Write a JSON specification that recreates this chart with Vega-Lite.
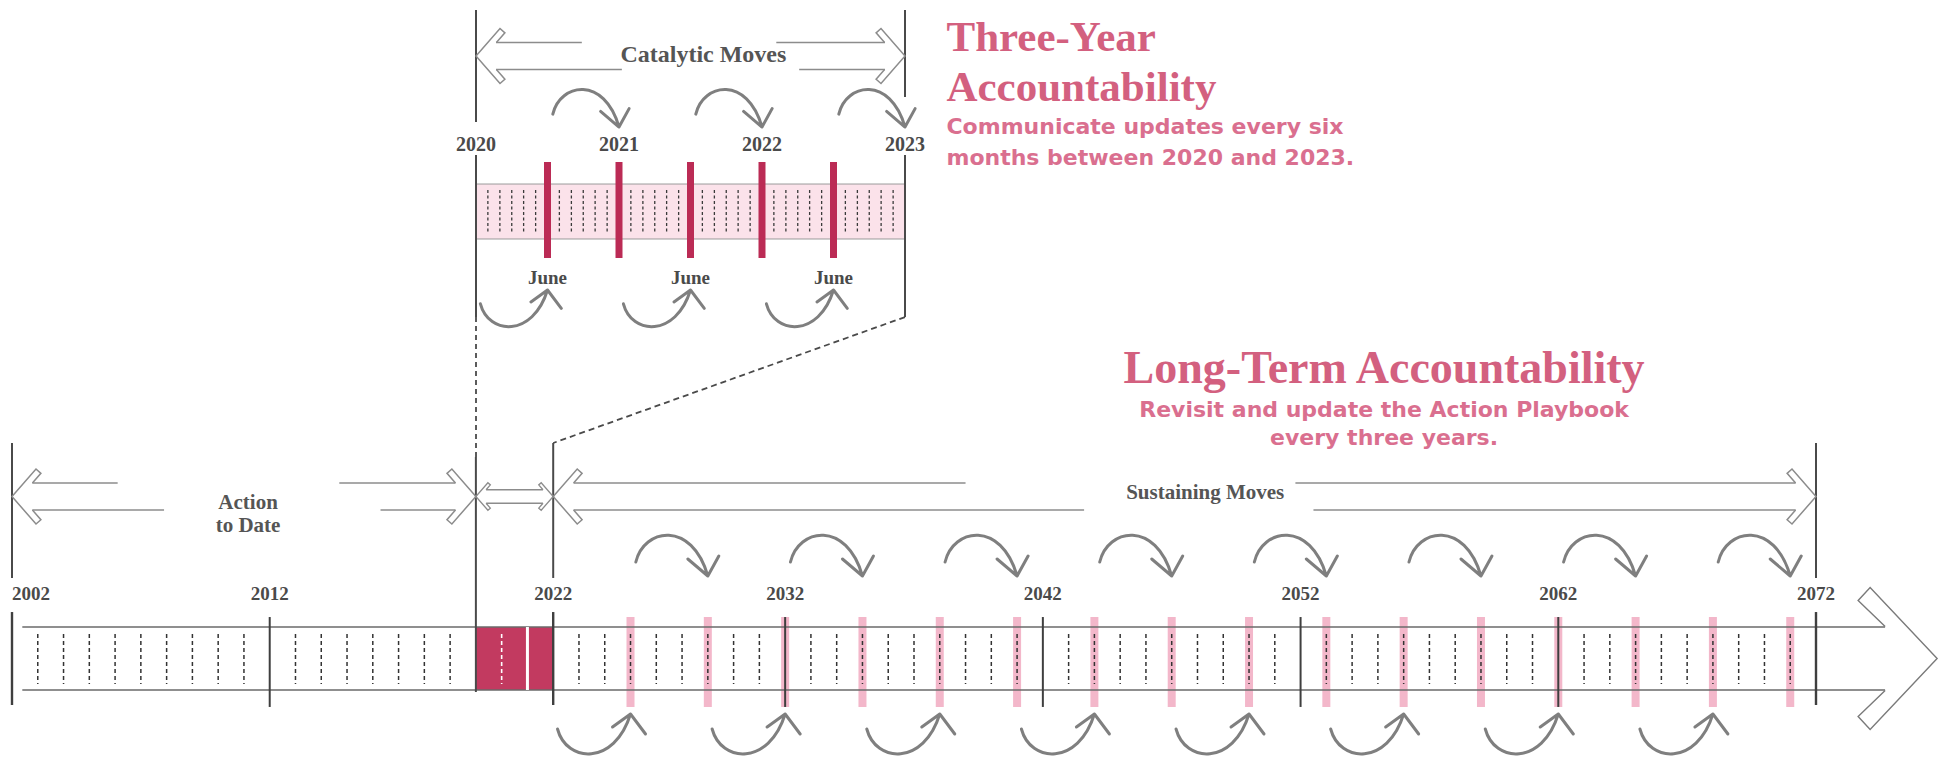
{
"$schema": "https://vega.github.io/schema/vega-lite/v6.json",
"width": 1948, "height": 757, "padding": 0, "autosize": {"type": "none"},
"background": "white",
"config": {"view": {"stroke": null}},
"resolve": {"scale": {"x": "independent"}},
"layer": [
{"data": {"values": [{"a": 2020, "b": 2023}]},
 "mark": {"type": "rect", "fill": "#fbe2ea", "stroke": "#9a9a9a", "strokeWidth": 1},
 "encoding": {"x": {"field": "a", "type": "quantitative", "scale": {"domain": [2020, 2023], "range": [476, 905], "nice": false, "zero": false}, "axis": null}, "x2": {"field": "b"},
  "y": {"datum": 24.31, "type": "quantitative", "scale": {"domain": [0, 100], "reverse": true, "nice": false, "zero": false}, "axis": null}, "y2": {"datum": 31.57}}},
{"data": {"values": [{"t": 2020.083}, {"t": 2020.167}, {"t": 2020.25}, {"t": 2020.333}, {"t": 2020.417}, {"t": 2020.583}, {"t": 2020.667}, {"t": 2020.75}, {"t": 2020.833}, {"t": 2020.917},
  {"t": 2021.083}, {"t": 2021.167}, {"t": 2021.25}, {"t": 2021.333}, {"t": 2021.417}, {"t": 2021.583}, {"t": 2021.667}, {"t": 2021.75}, {"t": 2021.833}, {"t": 2021.917},
  {"t": 2022.083}, {"t": 2022.167}, {"t": 2022.25}, {"t": 2022.333}, {"t": 2022.417}, {"t": 2022.583}, {"t": 2022.667}, {"t": 2022.75}, {"t": 2022.833}, {"t": 2022.917}]},
 "mark": {"type": "rule", "stroke": "#3a3a3a", "strokeWidth": 1.3, "strokeDash": [3, 2.5]},
 "encoding": {"x": {"field": "t", "type": "quantitative", "scale": {"domain": [2020, 2023], "range": [476, 905], "nice": false, "zero": false}, "axis": null},
  "y": {"datum": 25.1, "type": "quantitative", "scale": {"domain": [0, 100], "reverse": true, "nice": false, "zero": false}, "axis": null}, "y2": {"datum": 30.65}}},
{"data": {"values": [{"t": 2020.5}, {"t": 2021}, {"t": 2021.5}, {"t": 2022}, {"t": 2022.5}]},
 "mark": {"type": "rule", "stroke": "#bb2b55", "strokeWidth": 7},
 "encoding": {"x": {"field": "t", "type": "quantitative", "scale": {"domain": [2020, 2023], "range": [476, 905], "nice": false, "zero": false}, "axis": null},
  "y": {"datum": 21.4, "type": "quantitative", "scale": {"domain": [0, 100], "reverse": true, "nice": false, "zero": false}, "axis": null}, "y2": {"datum": 34.08}}},
{"data": {"values": [{"t": 2020}]},
 "mark": {"type": "rule", "stroke": "#4a4a4a", "strokeWidth": 2},
 "encoding": {"x": {"field": "t", "type": "quantitative", "scale": {"domain": [2020, 2023], "range": [476, 905], "nice": false, "zero": false}, "axis": null},
  "y": {"datum": 1.32, "type": "quantitative", "scale": {"domain": [0, 100], "reverse": true, "nice": false, "zero": false}, "axis": null}, "y2": {"datum": 16.12}}},
{"data": {"values": [{"t": 2023}]},
 "mark": {"type": "rule", "stroke": "#4a4a4a", "strokeWidth": 2},
 "encoding": {"x": {"field": "t", "type": "quantitative", "scale": {"domain": [2020, 2023], "range": [476, 905], "nice": false, "zero": false}, "axis": null},
  "y": {"datum": 1.32, "type": "quantitative", "scale": {"domain": [0, 100], "reverse": true, "nice": false, "zero": false}, "axis": null}, "y2": {"datum": 12.81}}},
{"data": {"values": [{"t": 2020}, {"t": 2023}]},
 "mark": {"type": "rule", "stroke": "#4a4a4a", "strokeWidth": 2},
 "encoding": {"x": {"field": "t", "type": "quantitative", "scale": {"domain": [2020, 2023], "range": [476, 905], "nice": false, "zero": false}, "axis": null},
  "y": {"datum": 20.48, "type": "quantitative", "scale": {"domain": [0, 100], "reverse": true, "nice": false, "zero": false}, "axis": null}, "y2": {"datum": 41.88}}},
{"data": {"values": [{"t": 2020}]},
 "mark": {"type": "rule", "stroke": "#4a4a4a", "strokeWidth": 1.8, "strokeDash": [5, 4]},
 "encoding": {"x": {"field": "t", "type": "quantitative", "scale": {"domain": [2020, 2023], "range": [476, 905], "nice": false, "zero": false}, "axis": null},
  "y": {"datum": 41.88, "type": "quantitative", "scale": {"domain": [0, 100], "reverse": true, "nice": false, "zero": false}, "axis": null}, "y2": {"datum": 60.37}}},
{"data": {"values": [{"a": 2023, "b": 2020.54}]},
 "mark": {"type": "rule", "stroke": "#4a4a4a", "strokeWidth": 1.8, "strokeDash": [6, 4]},
 "encoding": {"x": {"field": "a", "type": "quantitative", "scale": {"domain": [2020, 2023], "range": [476, 905], "nice": false, "zero": false}, "axis": null}, "x2": {"field": "b"},
  "y": {"datum": 41.88, "type": "quantitative", "scale": {"domain": [0, 100], "reverse": true, "nice": false, "zero": false}, "axis": null}, "y2": {"datum": 58.52}}},
{"data": {"values": [{"a": 2020.14, "b": 2020.74}, {"a": 2022.1, "b": 2022.86}]},
 "mark": {"type": "rule", "stroke": "#8c8c8c", "strokeWidth": 1.5},
 "encoding": {"x": {"field": "a", "type": "quantitative", "scale": {"domain": [2020, 2023], "range": [476, 905], "nice": false, "zero": false}, "axis": null}, "x2": {"field": "b"},
  "y": {"datum": 5.61, "type": "quantitative", "scale": {"domain": [0, 100], "reverse": true, "nice": false, "zero": false}, "axis": null}}},
{"data": {"values": [{"a": 2020.14, "b": 2021.02}, {"a": 2022.26, "b": 2022.86}]},
 "mark": {"type": "rule", "stroke": "#8c8c8c", "strokeWidth": 1.5},
 "encoding": {"x": {"field": "a", "type": "quantitative", "scale": {"domain": [2020, 2023], "range": [476, 905], "nice": false, "zero": false}, "axis": null}, "x2": {"field": "b"},
  "y": {"datum": 9.18, "type": "quantitative", "scale": {"domain": [0, 100], "reverse": true, "nice": false, "zero": false}, "axis": null}}},
{"data": {"values": [{"t": 2020}]},
 "mark": {"type": "point", "shape": "M2.04,-1.35 L2.89,-2.32 L2.4,-2.75 L0,0 L2.4,2.75 L2.89,2.32 L2.04,1.35", "size": 400, "filled": false, "stroke": "#8c8c8c", "strokeWidth": 1.5, "opacity": 1},
 "encoding": {"x": {"field": "t", "type": "quantitative", "scale": {"domain": [2020, 2023], "range": [476, 905], "nice": false, "zero": false}, "axis": null},
  "y": {"datum": 7.4, "type": "quantitative", "scale": {"domain": [0, 100], "reverse": true, "nice": false, "zero": false}, "axis": null}}},
{"data": {"values": [{"t": 2023}]},
 "mark": {"type": "point", "shape": "M-2.04,-1.35 L-2.89,-2.32 L-2.4,-2.75 L0,0 L-2.4,2.75 L-2.89,2.32 L-2.04,1.35", "size": 400, "filled": false, "stroke": "#8c8c8c", "strokeWidth": 1.5, "opacity": 1},
 "encoding": {"x": {"field": "t", "type": "quantitative", "scale": {"domain": [2020, 2023], "range": [476, 905], "nice": false, "zero": false}, "axis": null},
  "y": {"datum": 7.4, "type": "quantitative", "scale": {"domain": [0, 100], "reverse": true, "nice": false, "zero": false}, "axis": null}}},
{"data": {"values": [{"t": 2021.59, "label": "Catalytic Moves"}]},
 "mark": {"type": "text", "font": "Liberation Serif", "fontWeight": "bold", "fontSize": 24, "color": "#555555", "align": "center", "baseline": "middle"},
 "encoding": {"x": {"field": "t", "type": "quantitative", "scale": {"domain": [2020, 2023], "range": [476, 905], "nice": false, "zero": false}, "axis": null},
  "y": {"datum": 7.27, "type": "quantitative", "scale": {"domain": [0, 100], "reverse": true, "nice": false, "zero": false}, "axis": null}, "text": {"field": "label"}}},
{"data": {"values": [{"t": 2020, "label": "2020"}, {"t": 2021, "label": "2021"}, {"t": 2022, "label": "2022"}, {"t": 2023, "label": "2023"}]},
 "mark": {"type": "text", "font": "Liberation Serif", "fontWeight": "bold", "fontSize": 20, "color": "#4a4a4a", "align": "center", "baseline": "middle"},
 "encoding": {"x": {"field": "t", "type": "quantitative", "scale": {"domain": [2020, 2023], "range": [476, 905], "nice": false, "zero": false}, "axis": null},
  "y": {"datum": 19.15, "type": "quantitative", "scale": {"domain": [0, 100], "reverse": true, "nice": false, "zero": false}, "axis": null}, "text": {"field": "label"}}},
{"data": {"values": [{"t": 2020.5, "label": "June"}, {"t": 2021.5, "label": "June"}, {"t": 2022.5, "label": "June"}]},
 "mark": {"type": "text", "font": "Liberation Serif", "fontWeight": "bold", "fontSize": 19, "color": "#4a4a4a", "align": "center", "baseline": "middle"},
 "encoding": {"x": {"field": "t", "type": "quantitative", "scale": {"domain": [2020, 2023], "range": [476, 905], "nice": false, "zero": false}, "axis": null},
  "y": {"datum": 36.72, "type": "quantitative", "scale": {"domain": [0, 100], "reverse": true, "nice": false, "zero": false}, "axis": null}, "text": {"field": "label"}}},
{"data": {"values": [{"t": 2021}, {"t": 2022}, {"t": 2023}]},
 "mark": {"type": "point", "shape": "M-7.2,-1.4 C-6.4,-4.8 -1.6,-5.6 0,0 M-2,-1.7 L0,0 L1.1,-2.0", "size": 338, "filled": false, "stroke": "#7f7f7f", "strokeWidth": 3, "strokeCap": "round", "strokeJoin": "round", "opacity": 1},
 "encoding": {"x": {"field": "t", "type": "quantitative", "scale": {"domain": [2020, 2023], "range": [476, 905], "nice": false, "zero": false}, "axis": null},
  "y": {"datum": 16.78, "type": "quantitative", "scale": {"domain": [0, 100], "reverse": true, "nice": false, "zero": false}, "axis": null}}},
{"data": {"values": [{"t": 2020.5}, {"t": 2021.5}, {"t": 2022.5}]},
 "mark": {"type": "point", "shape": "M-7.3,1.5 C-6.4,4.9 -1.6,5.2 0,0 M-1.8,1.3 L0,0 L1.5,2.0", "size": 338, "filled": false, "stroke": "#7f7f7f", "strokeWidth": 3, "strokeCap": "round", "strokeJoin": "round", "opacity": 1},
 "encoding": {"x": {"field": "t", "type": "quantitative", "scale": {"domain": [2020, 2023], "range": [476, 905], "nice": false, "zero": false}, "axis": null},
  "y": {"datum": 38.31, "type": "quantitative", "scale": {"domain": [0, 100], "reverse": true, "nice": false, "zero": false}, "axis": null}}},
{"data": {"values": [{"t": 2023.29, "label": ["Three-Year", "Accountability"]}]},
 "mark": {"type": "text", "font": "Liberation Serif", "fontWeight": "bold", "fontSize": 43, "lineHeight": 50, "color": "#d3607f", "align": "left", "baseline": "alphabetic"},
 "encoding": {"x": {"field": "t", "type": "quantitative", "scale": {"domain": [2020, 2023], "range": [476, 905], "nice": false, "zero": false}, "axis": null},
  "y": {"datum": 6.74, "type": "quantitative", "scale": {"domain": [0, 100], "reverse": true, "nice": false, "zero": false}, "axis": null}, "text": {"field": "label"}}},
{"data": {"values": [{"t": 2023.29, "label": ["Communicate updates every six", "months between 2020 and 2023."]}]},
 "mark": {"type": "text", "font": "DejaVu Sans", "fontWeight": "bold", "fontSize": 22, "lineHeight": 31, "color": "#da6f8f", "align": "left", "baseline": "alphabetic"},
 "encoding": {"x": {"field": "t", "type": "quantitative", "scale": {"domain": [2020, 2023], "range": [476, 905], "nice": false, "zero": false}, "axis": null},
  "y": {"datum": 17.7, "type": "quantitative", "scale": {"domain": [0, 100], "reverse": true, "nice": false, "zero": false}, "axis": null}, "text": {"field": "label"}}},

{"data": {"values": [{"yr": 2026}, {"yr": 2029}, {"yr": 2032}, {"yr": 2035}, {"yr": 2038}, {"yr": 2041}, {"yr": 2044}, {"yr": 2047}, {"yr": 2050}, {"yr": 2053}, {"yr": 2056}, {"yr": 2059}, {"yr": 2062}, {"yr": 2065}, {"yr": 2068}, {"yr": 2071}]},
 "mark": {"type": "rule", "stroke": "#ef9fb8", "strokeOpacity": 0.75, "strokeWidth": 8},
 "encoding": {"x": {"field": "yr", "type": "quantitative", "scale": {"domain": [2002, 2072], "range": [12, 1816], "nice": false, "zero": false}, "axis": null},
  "y": {"datum": 81.51, "type": "quantitative", "scale": {"domain": [0, 100], "reverse": true, "nice": false, "zero": false}, "axis": null}, "y2": {"datum": 93.39}}},
{"data": {"values": [{"a": 2020, "b": 2023}]},
 "mark": {"type": "rect", "fill": "#c23a60"},
 "encoding": {"x": {"field": "a", "type": "quantitative", "scale": {"domain": [2002, 2072], "range": [12, 1816], "nice": false, "zero": false}, "axis": null}, "x2": {"field": "b"},
  "y": {"datum": 82.83, "type": "quantitative", "scale": {"domain": [0, 100], "reverse": true, "nice": false, "zero": false}, "axis": null}, "y2": {"datum": 91.15}}},
{"data": {"values": [{"a": 2002.4, "b": 2074.68}]},
 "mark": {"type": "rule", "stroke": "#6a6a6a", "strokeWidth": 1.3},
 "encoding": {"x": {"field": "a", "type": "quantitative", "scale": {"domain": [2002, 2072], "range": [12, 1816], "nice": false, "zero": false}, "axis": null}, "x2": {"field": "b"},
  "y": {"datum": 82.83, "type": "quantitative", "scale": {"domain": [0, 100], "reverse": true, "nice": false, "zero": false}, "axis": null}}},
{"data": {"values": [{"a": 2002.4, "b": 2074.68}]},
 "mark": {"type": "rule", "stroke": "#6a6a6a", "strokeWidth": 1.3},
 "encoding": {"x": {"field": "a", "type": "quantitative", "scale": {"domain": [2002, 2072], "range": [12, 1816], "nice": false, "zero": false}, "axis": null}, "x2": {"field": "b"},
  "y": {"datum": 91.15, "type": "quantitative", "scale": {"domain": [0, 100], "reverse": true, "nice": false, "zero": false}, "axis": null}}},
{"data": {"values": [{"yr": 2003}, {"yr": 2004}, {"yr": 2005}, {"yr": 2006}, {"yr": 2007}, {"yr": 2008}, {"yr": 2009}, {"yr": 2010}, {"yr": 2011},
  {"yr": 2013}, {"yr": 2014}, {"yr": 2015}, {"yr": 2016}, {"yr": 2017}, {"yr": 2018}, {"yr": 2019},
  {"yr": 2024}, {"yr": 2025}, {"yr": 2026}, {"yr": 2027}, {"yr": 2028}, {"yr": 2029}, {"yr": 2030}, {"yr": 2031},
  {"yr": 2033}, {"yr": 2034}, {"yr": 2035}, {"yr": 2036}, {"yr": 2037}, {"yr": 2038}, {"yr": 2039}, {"yr": 2040}, {"yr": 2041},
  {"yr": 2043}, {"yr": 2044}, {"yr": 2045}, {"yr": 2046}, {"yr": 2047}, {"yr": 2048}, {"yr": 2049}, {"yr": 2050}, {"yr": 2051},
  {"yr": 2053}, {"yr": 2054}, {"yr": 2055}, {"yr": 2056}, {"yr": 2057}, {"yr": 2058}, {"yr": 2059}, {"yr": 2060}, {"yr": 2061},
  {"yr": 2063}, {"yr": 2064}, {"yr": 2065}, {"yr": 2066}, {"yr": 2067}, {"yr": 2068}, {"yr": 2069}, {"yr": 2070}, {"yr": 2071}]},
 "mark": {"type": "rule", "stroke": "#333333", "strokeWidth": 1.5, "strokeDash": [4, 3]},
 "encoding": {"x": {"field": "yr", "type": "quantitative", "scale": {"domain": [2002, 2072], "range": [12, 1816], "nice": false, "zero": false}, "axis": null},
  "y": {"datum": 83.75, "type": "quantitative", "scale": {"domain": [0, 100], "reverse": true, "nice": false, "zero": false}, "axis": null}, "y2": {"datum": 90.36}}},
{"data": {"values": [{"yr": 2021}]},
 "mark": {"type": "rule", "stroke": "#ffffff", "strokeWidth": 1.6, "strokeDash": [4, 3]},
 "encoding": {"x": {"field": "yr", "type": "quantitative", "scale": {"domain": [2002, 2072], "range": [12, 1816], "nice": false, "zero": false}, "axis": null},
  "y": {"datum": 83.75, "type": "quantitative", "scale": {"domain": [0, 100], "reverse": true, "nice": false, "zero": false}, "axis": null}, "y2": {"datum": 90.36}}},
{"data": {"values": [{"yr": 2022}]},
 "mark": {"type": "rule", "stroke": "#ffffff", "strokeWidth": 3},
 "encoding": {"x": {"field": "yr", "type": "quantitative", "scale": {"domain": [2002, 2072], "range": [12, 1816], "nice": false, "zero": false}, "axis": null},
  "y": {"datum": 82.83, "type": "quantitative", "scale": {"domain": [0, 100], "reverse": true, "nice": false, "zero": false}, "axis": null}, "y2": {"datum": 91.15}}},
{"data": {"values": [{"yr": 2012}, {"yr": 2032}, {"yr": 2042}, {"yr": 2052}, {"yr": 2062}]},
 "mark": {"type": "rule", "stroke": "#3f3f3f", "strokeWidth": 2},
 "encoding": {"x": {"field": "yr", "type": "quantitative", "scale": {"domain": [2002, 2072], "range": [12, 1816], "nice": false, "zero": false}, "axis": null},
  "y": {"datum": 81.51, "type": "quantitative", "scale": {"domain": [0, 100], "reverse": true, "nice": false, "zero": false}, "axis": null}, "y2": {"datum": 93.39}}},
{"data": {"values": [{"yr": 2002}, {"yr": 2023}, {"yr": 2072}]},
 "mark": {"type": "rule", "stroke": "#3f3f3f", "strokeWidth": 2.4},
 "encoding": {"x": {"field": "yr", "type": "quantitative", "scale": {"domain": [2002, 2072], "range": [12, 1816], "nice": false, "zero": false}, "axis": null},
  "y": {"datum": 80.85, "type": "quantitative", "scale": {"domain": [0, 100], "reverse": true, "nice": false, "zero": false}, "axis": null}, "y2": {"datum": 93.13}}},
{"data": {"values": [{"yr": 2002}, {"yr": 2023}, {"yr": 2072}]},
 "mark": {"type": "rule", "stroke": "#4a4a4a", "strokeWidth": 2},
 "encoding": {"x": {"field": "yr", "type": "quantitative", "scale": {"domain": [2002, 2072], "range": [12, 1816], "nice": false, "zero": false}, "axis": null},
  "y": {"datum": 58.52, "type": "quantitative", "scale": {"domain": [0, 100], "reverse": true, "nice": false, "zero": false}, "axis": null}, "y2": {"datum": 76.35}}},
{"data": {"values": [{"yr": 2020}]},
 "mark": {"type": "rule", "stroke": "#4a4a4a", "strokeWidth": 2},
 "encoding": {"x": {"field": "yr", "type": "quantitative", "scale": {"domain": [2002, 2072], "range": [12, 1816], "nice": false, "zero": false}, "axis": null},
  "y": {"datum": 60.37, "type": "quantitative", "scale": {"domain": [0, 100], "reverse": true, "nice": false, "zero": false}, "axis": null}, "y2": {"datum": 91.41}}},
{"data": {"values": [{"a": 2002.79, "b": 2006.1}, {"a": 2014.7, "b": 2019.21}, {"a": 2023.79, "b": 2039.0}, {"a": 2051.8, "b": 2071.21}]},
 "mark": {"type": "rule", "stroke": "#8c8c8c", "strokeWidth": 1.5},
 "encoding": {"x": {"field": "a", "type": "quantitative", "scale": {"domain": [2002, 2072], "range": [12, 1816], "nice": false, "zero": false}, "axis": null}, "x2": {"field": "b"},
  "y": {"datum": 63.8, "type": "quantitative", "scale": {"domain": [0, 100], "reverse": true, "nice": false, "zero": false}, "axis": null}}},
{"data": {"values": [{"a": 2002.79, "b": 2007.9}, {"a": 2016.3, "b": 2019.21}, {"a": 2023.79, "b": 2043.6}, {"a": 2052.5, "b": 2071.21}]},
 "mark": {"type": "rule", "stroke": "#8c8c8c", "strokeWidth": 1.5},
 "encoding": {"x": {"field": "a", "type": "quantitative", "scale": {"domain": [2002, 2072], "range": [12, 1816], "nice": false, "zero": false}, "axis": null}, "x2": {"field": "b"},
  "y": {"datum": 67.37, "type": "quantitative", "scale": {"domain": [0, 100], "reverse": true, "nice": false, "zero": false}, "axis": null}}},
{"data": {"values": [{"yr": 2002}, {"yr": 2023}]},
 "mark": {"type": "point", "shape": "M2.04,-1.35 L2.89,-2.32 L2.4,-2.75 L0,0 L2.4,2.75 L2.89,2.32 L2.04,1.35", "size": 400, "filled": false, "stroke": "#8c8c8c", "strokeWidth": 1.5, "opacity": 1},
 "encoding": {"x": {"field": "yr", "type": "quantitative", "scale": {"domain": [2002, 2072], "range": [12, 1816], "nice": false, "zero": false}, "axis": null},
  "y": {"datum": 65.59, "type": "quantitative", "scale": {"domain": [0, 100], "reverse": true, "nice": false, "zero": false}, "axis": null}}},
{"data": {"values": [{"yr": 2020}, {"yr": 2072}]},
 "mark": {"type": "point", "shape": "M-2.04,-1.35 L-2.89,-2.32 L-2.4,-2.75 L0,0 L-2.4,2.75 L-2.89,2.32 L-2.04,1.35", "size": 400, "filled": false, "stroke": "#8c8c8c", "strokeWidth": 1.5, "opacity": 1},
 "encoding": {"x": {"field": "yr", "type": "quantitative", "scale": {"domain": [2002, 2072], "range": [12, 1816], "nice": false, "zero": false}, "axis": null},
  "y": {"datum": 65.59, "type": "quantitative", "scale": {"domain": [0, 100], "reverse": true, "nice": false, "zero": false}, "axis": null}}},
{"data": {"values": [{"a": 2020.4, "b": 2022.6}]},
 "mark": {"type": "rule", "stroke": "#8c8c8c", "strokeWidth": 1.4},
 "encoding": {"x": {"field": "a", "type": "quantitative", "scale": {"domain": [2002, 2072], "range": [12, 1816], "nice": false, "zero": false}, "axis": null}, "x2": {"field": "b"},
  "y": {"datum": 64.7, "type": "quantitative", "scale": {"domain": [0, 100], "reverse": true, "nice": false, "zero": false}, "axis": null}}},
{"data": {"values": [{"a": 2020.4, "b": 2022.6}]},
 "mark": {"type": "rule", "stroke": "#8c8c8c", "strokeWidth": 1.4},
 "encoding": {"x": {"field": "a", "type": "quantitative", "scale": {"domain": [2002, 2072], "range": [12, 1816], "nice": false, "zero": false}, "axis": null}, "x2": {"field": "b"},
  "y": {"datum": 66.48, "type": "quantitative", "scale": {"domain": [0, 100], "reverse": true, "nice": false, "zero": false}, "axis": null}}},
{"data": {"values": [{"yr": 2020}]},
 "mark": {"type": "point", "shape": "M2.04,-1.35 L2.89,-2.32 L2.4,-2.75 L0,0 L2.4,2.75 L2.89,2.32 L2.04,1.35", "size": 100, "filled": false, "stroke": "#8c8c8c", "strokeWidth": 1.3, "opacity": 1},
 "encoding": {"x": {"field": "yr", "type": "quantitative", "scale": {"domain": [2002, 2072], "range": [12, 1816], "nice": false, "zero": false}, "axis": null},
  "y": {"datum": 65.59, "type": "quantitative", "scale": {"domain": [0, 100], "reverse": true, "nice": false, "zero": false}, "axis": null}}},
{"data": {"values": [{"yr": 2023}]},
 "mark": {"type": "point", "shape": "M-2.04,-1.35 L-2.89,-2.32 L-2.4,-2.75 L0,0 L-2.4,2.75 L-2.89,2.32 L-2.04,1.35", "size": 100, "filled": false, "stroke": "#8c8c8c", "strokeWidth": 1.3, "opacity": 1},
 "encoding": {"x": {"field": "yr", "type": "quantitative", "scale": {"domain": [2002, 2072], "range": [12, 1816], "nice": false, "zero": false}, "axis": null},
  "y": {"datum": 65.59, "type": "quantitative", "scale": {"domain": [0, 100], "reverse": true, "nice": false, "zero": false}, "axis": null}}},
{"data": {"values": [{"yr": 2011.16, "label": ["Action", "to Date"]}]},
 "mark": {"type": "text", "font": "Liberation Serif", "fontWeight": "bold", "fontSize": 21, "lineHeight": 23, "color": "#555555", "align": "center", "baseline": "middle"},
 "encoding": {"x": {"field": "yr", "type": "quantitative", "scale": {"domain": [2002, 2072], "range": [12, 1816], "nice": false, "zero": false}, "axis": null},
  "y": {"datum": 66.51, "type": "quantitative", "scale": {"domain": [0, 100], "reverse": true, "nice": false, "zero": false}, "axis": null}, "text": {"field": "label"}}},
{"data": {"values": [{"yr": 2048.3, "label": "Sustaining Moves"}]},
 "mark": {"type": "text", "font": "Liberation Serif", "fontWeight": "bold", "fontSize": 21, "color": "#555555", "align": "center", "baseline": "middle"},
 "encoding": {"x": {"field": "yr", "type": "quantitative", "scale": {"domain": [2002, 2072], "range": [12, 1816], "nice": false, "zero": false}, "axis": null},
  "y": {"datum": 65.13, "type": "quantitative", "scale": {"domain": [0, 100], "reverse": true, "nice": false, "zero": false}, "axis": null}, "text": {"field": "label"}}},
{"data": {"values": [{"yr": 2012, "label": "2012"}, {"yr": 2023, "label": "2022"}, {"yr": 2032, "label": "2032"}, {"yr": 2042, "label": "2042"}, {"yr": 2052, "label": "2052"}, {"yr": 2062, "label": "2062"}, {"yr": 2072, "label": "2072"}]},
 "mark": {"type": "text", "font": "Liberation Serif", "fontWeight": "bold", "fontSize": 19, "color": "#4a4a4a", "align": "center", "baseline": "middle"},
 "encoding": {"x": {"field": "yr", "type": "quantitative", "scale": {"domain": [2002, 2072], "range": [12, 1816], "nice": false, "zero": false}, "axis": null},
  "y": {"datum": 78.47, "type": "quantitative", "scale": {"domain": [0, 100], "reverse": true, "nice": false, "zero": false}, "axis": null}, "text": {"field": "label"}}},
{"data": {"values": [{"yr": 2002, "label": "2002"}]},
 "mark": {"type": "text", "font": "Liberation Serif", "fontWeight": "bold", "fontSize": 19, "color": "#4a4a4a", "align": "left", "baseline": "middle"},
 "encoding": {"x": {"field": "yr", "type": "quantitative", "scale": {"domain": [2002, 2072], "range": [12, 1816], "nice": false, "zero": false}, "axis": null},
  "y": {"datum": 78.47, "type": "quantitative", "scale": {"domain": [0, 100], "reverse": true, "nice": false, "zero": false}, "axis": null}, "text": {"field": "label"}}},
{"data": {"values": [{"yr": 2029}, {"yr": 2035}, {"yr": 2041}, {"yr": 2047}, {"yr": 2053}, {"yr": 2059}, {"yr": 2065}, {"yr": 2071}]},
 "mark": {"type": "point", "shape": "M-7.2,-1.4 C-6.4,-4.8 -1.6,-5.6 0,0 M-2,-1.7 L0,0 L1.1,-2.0", "size": 400, "filled": false, "stroke": "#7f7f7f", "strokeWidth": 3, "strokeCap": "round", "strokeJoin": "round", "opacity": 1},
 "encoding": {"x": {"field": "yr", "type": "quantitative", "scale": {"domain": [2002, 2072], "range": [12, 1816], "nice": false, "zero": false}, "axis": null},
  "y": {"datum": 76.09, "type": "quantitative", "scale": {"domain": [0, 100], "reverse": true, "nice": false, "zero": false}, "axis": null}}},
{"data": {"values": [{"yr": 2026}, {"yr": 2032}, {"yr": 2038}, {"yr": 2044}, {"yr": 2050}, {"yr": 2056}, {"yr": 2062}, {"yr": 2068}]},
 "mark": {"type": "point", "shape": "M-7.3,1.5 C-6.4,4.9 -1.6,5.2 0,0 M-1.8,1.3 L0,0 L1.5,2.0", "size": 400, "filled": false, "stroke": "#7f7f7f", "strokeWidth": 3, "strokeCap": "round", "strokeJoin": "round", "opacity": 1},
 "encoding": {"x": {"field": "yr", "type": "quantitative", "scale": {"domain": [2002, 2072], "range": [12, 1816], "nice": false, "zero": false}, "axis": null},
  "y": {"datum": 94.32, "type": "quantitative", "scale": {"domain": [0, 100], "reverse": true, "nice": false, "zero": false}, "axis": null}}},
{"data": {"values": [{"yr": 2076.7}]},
 "mark": {"type": "point", "shape": "M-5.2,-3.2 L-7.9,-5.8 L-6.7,-7.1 L0,0 L-6.7,7.1 L-7.9,5.8 L-5.2,3.2", "size": 400, "filled": false, "stroke": "#7a7a7a", "strokeWidth": 1.4, "opacity": 1},
 "encoding": {"x": {"field": "yr", "type": "quantitative", "scale": {"domain": [2002, 2072], "range": [12, 1816], "nice": false, "zero": false}, "axis": null},
  "y": {"datum": 86.99, "type": "quantitative", "scale": {"domain": [0, 100], "reverse": true, "nice": false, "zero": false}, "axis": null}}},
{"data": {"values": [{"yr": 2055.24, "label": "Long-Term Accountability"}]},
 "mark": {"type": "text", "font": "Liberation Serif", "fontWeight": "bold", "fontSize": 46, "color": "#d3607f", "align": "center", "baseline": "alphabetic"},
 "encoding": {"x": {"field": "yr", "type": "quantitative", "scale": {"domain": [2002, 2072], "range": [12, 1816], "nice": false, "zero": false}, "axis": null},
  "y": {"datum": 50.59, "type": "quantitative", "scale": {"domain": [0, 100], "reverse": true, "nice": false, "zero": false}, "axis": null}, "text": {"field": "label"}}},
{"data": {"values": [{"yr": 2055.24, "label": ["Revisit and update the Action Playbook", "every three years."]}]},
 "mark": {"type": "text", "font": "DejaVu Sans", "fontWeight": "bold", "fontSize": 22, "lineHeight": 28, "color": "#da6f8f", "align": "center", "baseline": "alphabetic"},
 "encoding": {"x": {"field": "yr", "type": "quantitative", "scale": {"domain": [2002, 2072], "range": [12, 1816], "nice": false, "zero": false}, "axis": null},
  "y": {"datum": 55.09, "type": "quantitative", "scale": {"domain": [0, 100], "reverse": true, "nice": false, "zero": false}, "axis": null}, "text": {"field": "label"}}}
]
}
